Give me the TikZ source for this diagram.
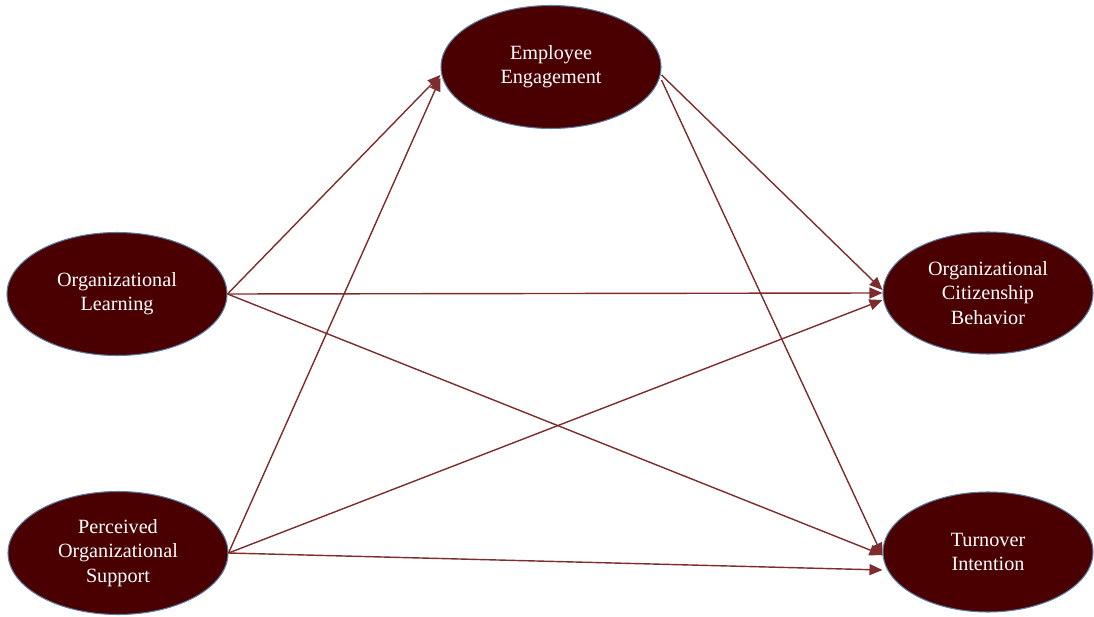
\documentclass[tikz,border=0pt]{standalone}
\usepackage{fontspec}
\setmainfont{Liberation Serif}
\usepackage{tikz}
\usetikzlibrary{calc,positioning}
\usetikzlibrary{arrows.meta,shapes.geometric}
\definecolor{maroonfill}{RGB}{74,0,0}
\definecolor{rimblue}{RGB}{90,125,165}
\definecolor{pathred}{RGB}{125,45,45}
\tikzset{
  construct/.style={ellipse,draw=rimblue,line width=0.6pt,fill=maroonfill,text=white,
    inner sep=0pt,minimum width=44mm,minimum height=24.6mm,align=center,
    font=\fontsize{11.5}{13.8}\selectfont},
  pathline/.style={draw=pathred,line width=0.8pt,-{Triangle[length=2.6mm,width=2.2mm]}}
}

\begin{document}
\begin{tikzpicture}
				 %\draw[color=gray,step=1mm, help lines,opacity=0.3] (0pt,0pt) grid (218.8mm,123.2mm); %help grids
				\useasboundingbox (0,0) rectangle (218.8mm,123.2mm);
				\node[construct] (ee) at (110.2mm,109.8mm) {Employee\\Engagement};
				\node[construct] (ol) at (23.4mm,64.4mm) {Organizational\\Learning};
				\node[construct] (pos) at (23.6mm,12.6mm) {Perceived\\Organizational\\Support};
				\node[construct,minimum width=42mm,minimum height=24.4mm] (ocb) at (197.6mm,64.6mm) {Organizational\\Citizenship\\Behavior};
				\node[construct,minimum width=42mm,minimum height=24mm] (ti) at (197.6mm,12.8mm) {Turnover\\Intention};
				% paths
				\draw[pathline] (ol.east)--($(ee.west)+(0,-1.6mm)$);
				\draw[pathline] (ol.east)--(ocb.west);
				\draw[pathline] (ol.east)--($(ti.west)+(0,-0.6mm)$);
				\draw[pathline] (pos.east)--($(ee.west)+(0,-2.2mm)$);
				\draw[pathline] (pos.east)--($(ocb.west)+(0,-1.4mm)$);
				\draw[pathline] (pos.east)--($(ti.west)+(0,-3.6mm)$);
				\draw[pathline] ($(ee.east)+(0,-1.6mm)$)--($(ocb.west)+(0,0.6mm)$);
				\draw[pathline] ($(ee.east)+(0,-2.6mm)$)--($(ti.west)+(0,-0.8mm)$);
\end{tikzpicture}
\end{document}
